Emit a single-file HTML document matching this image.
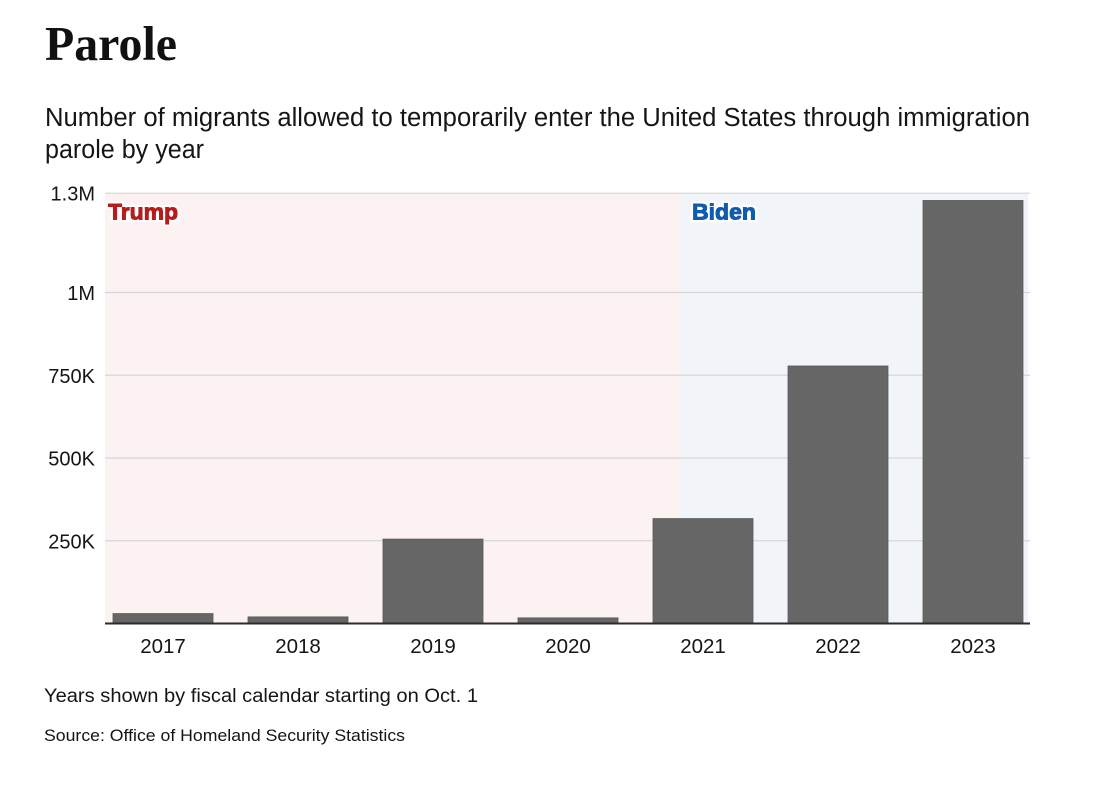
<!DOCTYPE html>
<html lang="en">
<head>
<meta charset="utf-8">
<title>Parole</title>
<style>
html,body{margin:0;padding:0;background:#fff;width:1100px;height:789px;overflow:hidden}
svg{display:block}
text{font-family:"Liberation Sans",sans-serif;fill:#151515}
</style>
</head>
<body>
<svg id="chart" xmlns="http://www.w3.org/2000/svg" width="1100" height="789" viewBox="0 0 1100 789">
  <defs>
    <filter id="halo" x="-15%" y="-30%" width="130%" height="160%">
      <feMorphology in="SourceGraphic" operator="dilate" radius="0.35" result="heavy"/>
      <feMorphology in="SourceAlpha" operator="dilate" radius="2.4" result="spread"/>
      <feGaussianBlur in="spread" stdDeviation="0.6" result="soft"/>
      <feFlood flood-color="#ffffff"/>
      <feComposite in2="soft" operator="in" result="white"/>
      <feMerge><feMergeNode in="white"/><feMergeNode in="heavy"/></feMerge>
    </filter>
  </defs>
  <text x="45" y="60" textLength="132" lengthAdjust="spacingAndGlyphs" style="font-family:'Liberation Serif',serif;font-weight:700;font-size:49px;fill:#111">Parole</text>
  <text x="45" y="126" textLength="985" lengthAdjust="spacingAndGlyphs" style="font-size:25.5px">Number of migrants allowed to temporarily enter the United States through immigration</text>
  <text x="45" y="158" textLength="159" lengthAdjust="spacingAndGlyphs" style="font-size:25.5px">parole by year</text>
  <g id="bands"></g>
  <g id="grid"></g>
  <g id="labels"></g>
  <g id="bars"></g>
  <g id="xaxis"></g>
  <text x="44" y="702" textLength="434" lengthAdjust="spacingAndGlyphs" style="font-size:19px">Years shown by fiscal calendar starting on Oct. 1</text>
  <text x="44" y="741" textLength="361" lengthAdjust="spacingAndGlyphs" style="font-size:17px">Source: Office of Homeland Security Statistics</text>
</svg>
<script>
const years = ['2017','2018','2019','2020','2021','2022','2023'];
const paroles = [30000,20000,255000,17000,317000,778000,1278000];
const tickValues = [250000,500000,750000,1000000,1300000];
const tickLabels = ['250K','500K','750K','1M','1.3M'];
const adminNames = ['Trump','Biden'];
const adminColors = ['#b71c1c','#0b5cad'];

const NS = 'http://www.w3.org/2000/svg';
const baseY = 623.5, pxPerUnit = 331 / 1000000;
const firstBarX = 113, step = 135, barW = 100;
const y = v => baseY - v * pxPerUnit;
const x = i => firstBarX + i * step;

function make(tag, attrs, parent, text) {
  const el = document.createElementNS(NS, tag);
  for (const k in attrs) el.setAttribute(k, attrs[k]);
  if (text !== undefined) el.textContent = text;
  parent.appendChild(el);
  return el;
}

const bands = document.getElementById('bands');
const trumpBand = make('rect', {x:105, y:y(1300000), width:575, height:baseY - y(1300000), fill:'#fcf2f1'}, bands);


const bidenBand = make('rect', {x:680, y:y(1300000), width:348, height:baseY - y(1300000), fill:'#f1f5fa'}, bands);



const grid = document.getElementById('grid');
tickValues.forEach((v, i) => {
  const line = make('line', {x1:105, x2:1030, y1:y(v), y2:y(v), stroke:'#d6d6d8', 'stroke-width':1.2}, grid);
  
  
  const label = make('text', {x:95, y:y(v) + 7.5, 'text-anchor':'end', 'font-size':20}, grid, tickLabels[i]);
  
  
});

const labels = document.getElementById('labels');
const labelX = [108, 692];
const labelWidths = [70, 64];
adminNames.forEach((name, i) => {
  const t = make('text', {x:labelX[i], y:219.5, 'font-size':22, 'font-weight':700,
    textLength:labelWidths[i], lengthAdjust:'spacingAndGlyphs', filter:'url(#halo)',
    style:'fill:' + adminColors[i]}, labels, name);
  
  
});

const bars = document.getElementById('bars');
paroles.forEach((v, i) => {
  const bar = make('rect', {x:x(i), y:y(v), width:barW, height:baseY - y(v), fill:'#666666', stroke:'#585858', 'stroke-width':0.8}, bars);
  
  
});

const xaxis = document.getElementById('xaxis');
const axisLine = make('line', {x1:105, x2:1030, y1:baseY, y2:baseY, stroke:'#2b2b2b', 'stroke-width':2}, xaxis);


years.forEach((yr, i) => {
  const t = make('text', {x:x(i) + barW / 2, y:653, 'text-anchor':'middle', 'font-size':20.5}, xaxis, yr);
  
  
});
</script>
</body>
</html>
